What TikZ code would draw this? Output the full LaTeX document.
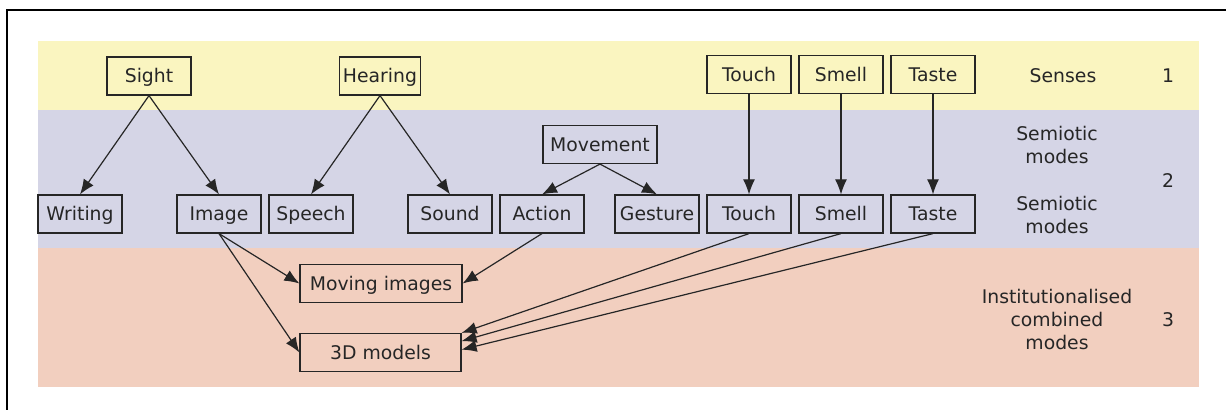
\documentclass[tikz,border=0pt]{standalone}
\usepackage{fontspec}
\setmainfont{DejaVu Sans}
\usetikzlibrary{positioning}
\usetikzlibrary{arrows.meta}
\definecolor{ink}{RGB}{38,38,38}
\definecolor{sensesband}{RGB}{250,245,192}
\definecolor{semioticband}{RGB}{213,213,230}
\definecolor{combinedband}{RGB}{242,207,191}

\begin{document}
\begin{tikzpicture}[x=0.5pt, y=-0.5pt,
    font=\fontsize{9.4}{11.5}\selectfont,
    box/.style={draw=ink, text=ink, line width=0.6pt,
                minimum width=42pt, minimum height=19pt, inner sep=0pt,
                text height=8pt, text depth=1pt},
    lab/.style={text=ink, align=center},
    link/.style={-{Latex[length=7.5pt,width=6pt]}, line width=0.6pt, draw=ink}]
    \useasboundingbox (0,0) rectangle (1226,410);
    % bands for the three levels
    \fill[sensesband] (38,41) rectangle (1199,110);
    \fill[semioticband] (38,110) rectangle (1199,248);
    \fill[combinedband] (38,248) rectangle (1199,387);
    \draw[line width=0.8pt] (7,410) -- (7,10) -- (1226,10);

    % semiotic modes
    \node[box] (writing) at (80,214) {Writing};
    \node[box] (image) at (219,214) {Image};
    \node[box,
          right=3.4pt of image] (speech) {Speech};
    \node[box] (sound) at (450,214) {Sound};
    \node[box,
          right=3.4pt of sound] (action) {Action};
    \node[box] (gesture) at (657,214) {Gesture};
    \node[box,
          right=3.4pt of gesture] (touchB) {Touch};
    \node[box,
          right=3.4pt of touchB] (smellB) {Smell};
    \node[box,
          right=3.4pt of smellB] (tasteB) {Taste};
    \node[box,
          minimum width=57pt] (movement) at (600,144.5) {Movement};

    % senses
    \node[box] (sight) at (149,76) {Sight};
    \node[box,
          minimum width=40.5pt] (hearing) at (380,76) {Hearing};
    \node[box,
          above=50pt of touchB] (touchA) {Touch};
    \node[box,
          above=50pt of smellB] (smellA) {Smell};
    \node[box,
          above=50pt of tasteB] (tasteA) {Taste};

    % combined modes
    \node[box,
          minimum width=81pt] (moving) at (381,283.5) {Moving images};
    \node[box,
          minimum width=80.5pt] (threeD) at (380.5,352.5) {3D models};

    % level labels
    \node[lab] (senses) at (1063,76) {Senses};
    \node[lab] (one) at (1168,76) {1};
    \node[lab] (semioticA) at (1057,145) {Semiotic\\modes};
    \node[lab] (two) at (1168,181) {2};
    \node[lab] (semioticB) at (1057,215) {Semiotic\\modes};
    \node[lab] (combined) at (1057,319) {Institutionalised\\combined\\modes};
    \node[lab] (three) at (1168,320) {3};

    \draw[link] (sight.south) -- (writing.north);
    \draw[link] (sight.south) -- (image.north);
    \draw[link] (hearing.south) -- (speech.north);
    \draw[link] (hearing.south) -- (sound.north);
    \draw[link] (movement.south) -- (action.north);
    \draw[link] (movement.south) -- (gesture.north);
    \draw[link] (touchA) -- (touchB);
    \draw[link] (smellA) -- (smellB);
    \draw[link] (tasteA) -- (tasteB);
    \draw[link] (image.south) -- (moving.west);
    \draw[link] (image.south) -- (threeD.west);
    \draw[link] (action.south) -- (moving.east);
    \draw[link] (touchB.south) -- (threeD.north east);
    \draw[link] (smellB.south) -- (threeD.8);
    \draw[link] (tasteB.south) -- (threeD.2);
\end{tikzpicture}
\end{document}
